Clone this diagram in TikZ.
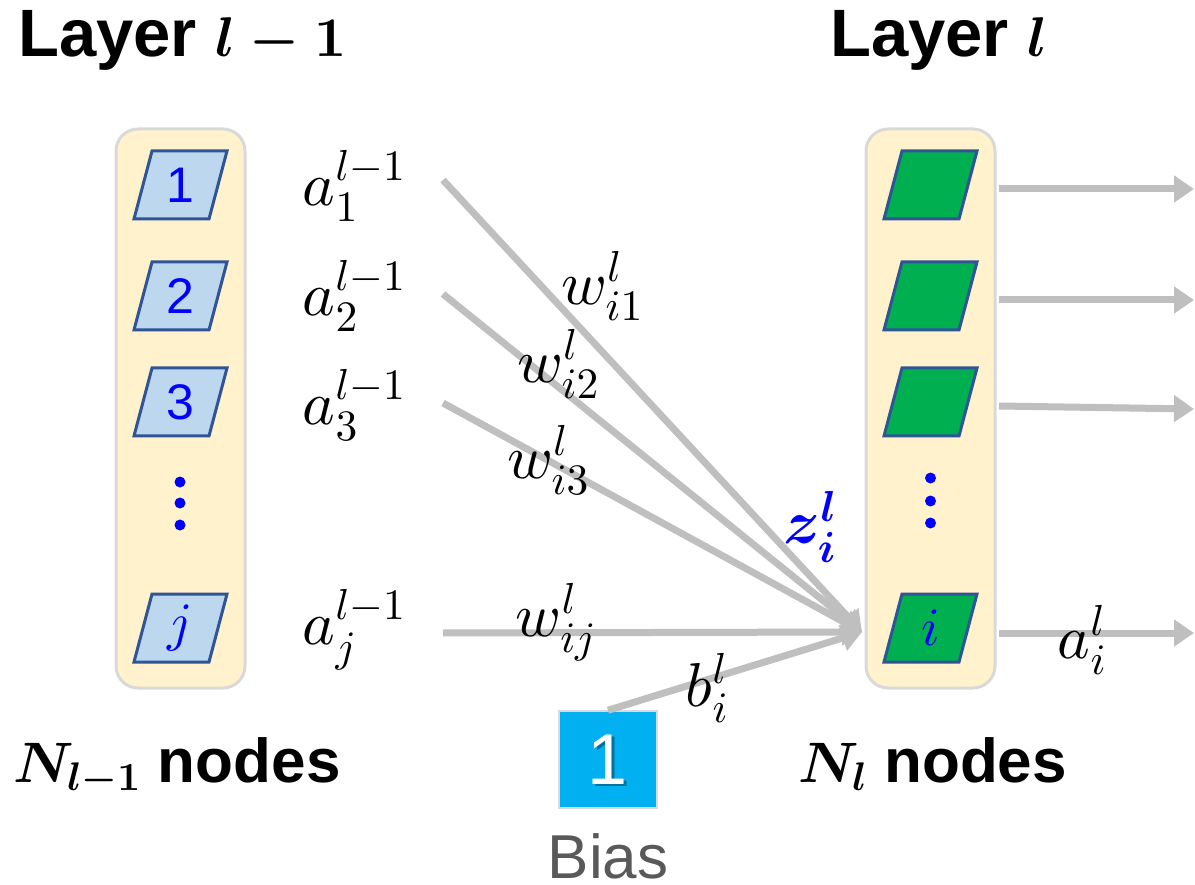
\documentclass[tikz,border=0pt]{standalone}
\usepackage{fontspec}
\usetikzlibrary{arrows.meta,calc}
% scalable Computer Modern math at any size
\DeclareFontShape{OML}{cmm}{m}{it}{<->cmmi10}{}
\DeclareFontShape{OML}{cmm}{b}{it}{<->cmmib10}{}
\DeclareFontShape{OMS}{cmsy}{m}{n}{<->cmsy10}{}
\DeclareFontShape{OMS}{cmsy}{b}{n}{<->cmbsy10}{}
\DeclareFontShape{OT1}{cmr}{m}{n}{<->cmr10}{}
\DeclareFontShape{OT1}{cmr}{bx}{n}{<->cmbx10}{}
\DeclareFontShape{OMX}{cmex}{m}{n}{<->cmex10}{}
\newfontfamily\arial{Liberation Sans}
\definecolor{panelfill}{HTML}{FFF2CC}
\definecolor{panelline}{HTML}{D9D9D9}
\definecolor{inblue}{HTML}{BDD7EE}
\definecolor{outgreen}{HTML}{00B050}
\definecolor{boxline}{HTML}{2F5597}
\definecolor{wirecol}{HTML}{BFBFBF}
\definecolor{biasblue}{HTML}{00B0F0}
\definecolor{biasgray}{HTML}{595959}
\definecolor{labelblue}{HTML}{0000FF}
\tikzset{
  panel/.style={draw=panelline, fill=panelfill, line width=3pt, rounded corners=22pt,
    minimum width=129pt, minimum height=559pt, inner sep=0pt},
  para/.style={minimum width=100pt, minimum height=76pt, inner sep=0pt,
    text=labelblue, font=\arial\fontsize{50}{54}\selectfont,
    path picture={\draw[line width=3pt, draw=boxline, fill=#1]
      ([shift={(-28.5,-34)}]path picture bounding box.center)
      -- ++(75,0) -- ++(-18,68) -- ++(-75,0) -- cycle;}},
  dot/.style={circle, fill=labelblue, inner sep=0pt, minimum size=11pt},
  wire/.style={draw=wirecol, line width=7pt, -{Triangle[length=20pt,width=26pt]}},
  mlab/.style={font=\fontsize{62}{70}\selectfont, inner sep=0pt},
  head/.style={font=\arial\bfseries\fontsize{67}{72}\selectfont, inner sep=0pt},
  foot/.style={font=\arial\bfseries\fontsize{62}{68}\selectfont, inner sep=0pt}
}
\begin{document}
\begin{tikzpicture}[x=1pt,y=-1pt]
\useasboundingbox (0,0) rectangle (1195,885);

% layer panels
\node[panel] (panelL) at (180.5,408.5) {};
\node[panel] (panelR) at (930.5,408.5) {};

% neurons of layer l-1
\node[para=inblue] (n1) at (180.5,185) {1};
\node[para=inblue] (n2) at (180.5,296) {2};
\node[para=inblue] (n3) at (180.5,402) {3};
\node[para=inblue, font=\fontsize{54}{58}\selectfont] (nj) at (180.5,628) {$j$};
\node[dot] (dl1) at (180,482) {};
\node[dot] (dl2) at (180,503) {};
\node[dot] (dl3) at (180,525) {};

% neurons of layer l
\node[para=outgreen] (g1) at (930.5,185) {};
\node[para=outgreen] (g2) at (930.5,296) {};
\node[para=outgreen] (g3) at (930.5,402) {};
\node[para=outgreen, font=\fontsize{54}{58}\selectfont] (gi) at (930.5,628) {$i$};
\node[dot] (dr1) at (930.5,478) {};
\node[dot] (dr2) at (930.5,501) {};
\node[dot] (dr3) at (930.5,523) {};

% headings
\node[head, anchor=base west] (hL) at (18,57) {Layer {\fontsize{56}{62}\selectfont\boldmath$l-1$}};
\node[head, anchor=base west] (hR) at (830,57) {Layer {\fontsize{56}{62}\selectfont\boldmath$l$}};
\node[foot, anchor=base west] (cL) at (13,782) {{\fontsize{57}{64}\selectfont\boldmath$N_{l-1}$} nodes};
\node[foot, anchor=base west] (cR) at (798,782) {{\fontsize{57}{64}\selectfont\boldmath$N_{l}$} nodes};

% activations of layer l-1
\node[mlab] (a1) at (354,186) {$a_1^{l-1}$};
\node[mlab] (a2) at (354,296) {$a_2^{l-1}$};
\node[mlab] (a3) at (354,405) {$a_3^{l-1}$};
\node[mlab] (aj) at (354,630) {$a_j^{l-1}$};

% bias unit
\node[draw=panelline, line width=1.5pt, fill=biasblue, minimum width=98pt,
  minimum height=97pt, inner sep=0pt] (bias) at (608,759.5) {};
\node[text=black, opacity=0.35, font=\arial\fontsize{72}{76}\selectfont]
  (oneshadow) at ([shift={(2.5,2.5)}]bias.center) {1};
\node[text=white, font=\arial\fontsize{72}{76}\selectfont] (one) at (bias.center) {1};
\node[text=biasgray, font=\arial\fontsize{62}{68}\selectfont, anchor=base]
  (biaslab) at (608,878) {Bias};

% weighted inputs converging on neuron i
\coordinate (tip) at (862,632);
\coordinate (s1) at (443,180);
\coordinate (s2) at (443,294);
\coordinate (s3) at (443,403);
\coordinate (sj) at (443,633);
\draw[wire] (s1) -- (tip);
\draw[wire] (s2) -- (tip);
\draw[wire] (s3) -- (tip);
\draw[wire] (sj) -- (tip);
\draw[wire] (bias.north) -- (tip);

% outputs of layer l
\coordinate (o1) at (999,189);
\coordinate (o2) at (999,300);
\coordinate (o3) at (999,406);
\coordinate (oi) at (999,633);
\coordinate (e1) at (1194,189);
\coordinate (e2) at (1194,300);
\coordinate (e3) at (1194,409);
\coordinate (ei) at (1194,633);
\draw[wire] (o1) -- (e1);
\draw[wire] (o2) -- (e2);
\draw[wire] (o3) -- (e3);
\draw[wire] (oi) -- (ei);

% weights, bias and sums
\node[mlab] (w1) at (602,286) {$w_{i1}^{l}$};
\node[mlab] (w2) at (558,364) {$w_{i2}^{l}$};
\node[mlab] (w3) at (548,460) {$w_{i3}^{l}$};
\node[mlab] (wj) at (556,622) {$w_{ij}^{l}$};
\node[mlab] (b) at (707,688) {$b_i^{l}$};
\node[mlab, text=labelblue] (z) at (810,527) {{\boldmath$z_i^{l}$}};
\node[mlab] (ai) at (1082,640) {$a_i^{l}$};
\end{tikzpicture}
\end{document}
